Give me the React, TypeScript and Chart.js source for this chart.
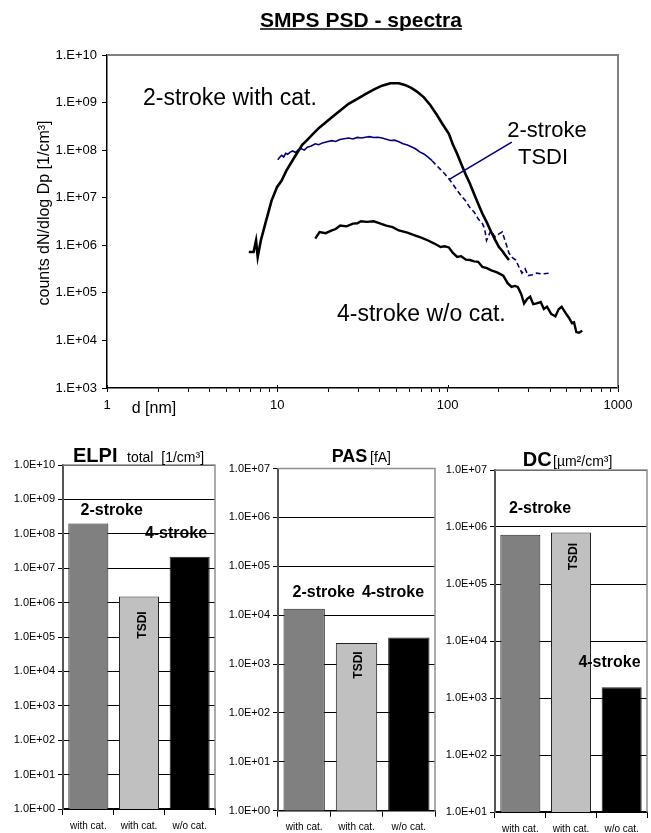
import React, { useEffect, useRef } from "react";
import { Chart, registerables } from "chart.js";

Chart.register(...registerables);

const FONT = "'Liberation Sans', Arial, Helvetica, sans-serif";

// ---------- SMPS spectra data ----------
const twoStrokeCatD = [6.8, 7.25, 7.5, 7.67, 8.0, 8.5, 9.25, 9.95, 10.6, 11.3, 12.6, 14.0, 14.9, 16.2, 17.7, 19.2, 20.9, 23.5, 26.2, 29.5, 32.9, 37, 41.2, 46.1, 51.7, 56, 61.2, 66, 72.5, 79, 85.9, 93, 101.7, 107, 113.8, 120, 127, 135, 143, 151, 160, 170, 179, 190, 200, 210, 218, 229];
const twoStrokeCatN = [7.2e5, 7.2e5, 1.26e6, 5.7e5, 1.26e6, 2.85e6, 8.7e6, 1.66e7, 2.3e7, 3.7e7, 7.1e7, 1.3e8, 1.6e8, 2.2e8, 3.0e8, 3.8e8, 4.9e8, 6.9e8, 9.4e8, 1.2e9, 1.5e9, 1.9e9, 2.27e9, 2.55e9, 2.55e9, 2.35e9, 2.04e9, 1.7e9, 1.29e9, 8.9e8, 5.7e8, 3.6e8, 2.2e8, 1.35e8, 8.3e7, 5.2e7, 3.2e7, 2.0e7, 1.2e7, 7.5e6, 4.6e6, 3.0e6, 2.0e6, 1.3e6, 9.2e5, 7.5e5, 6.2e5, 4.9e5];

const tsdiD = [10.06, 10.3, 10.6, 10.9, 11.2, 11.5, 11.9, 12.3, 12.8, 13.3, 13.8, 14.4, 15.0, 15.8, 16.7, 17.5, 18.4, 19.6, 20.9, 22.0, 23.3, 24.7, 26.2, 27.8, 29.5, 31.2, 32.9, 34.8, 36.8, 38.9, 41.2, 43.6, 46.1, 48.8, 51.7, 54.7, 58, 61.2, 64.7, 68.5, 72.5, 76.7, 81, 85.9, 91, 96, 101.7, 107.5, 113.8, 120, 127, 135, 143, 151, 160, 165, 169, 174, 179, 190, 200, 209, 218, 224, 229, 240, 251, 262, 273, 285, 297, 315, 333, 360, 394];
const tsdiN = [6.3e7, 7.0e7, 7.8e7, 7.2e7, 8.6e7, 8.2e7, 9.1e7, 9.6e7, 8.9e7, 1.02e8, 1.08e8, 1.0e8, 1.15e8, 1.22e8, 1.36e8, 1.3e8, 1.42e8, 1.5e8, 1.58e8, 1.52e8, 1.68e8, 1.74e8, 1.8e8, 1.72e8, 1.85e8, 1.8e8, 1.87e8, 1.92e8, 1.84e8, 1.87e8, 1.8e8, 1.7e8, 1.6e8, 1.62e8, 1.5e8, 1.36e8, 1.28e8, 1.18e8, 1.07e8, 9.2e7, 8.3e7, 7.1e7, 6.0e7, 4.8e7, 3.9e7, 3.2e7, 2.5e7, 1.9e7, 1.42e7, 1.1e7, 8.7e6, 6.2e6, 5.0e6, 3.6e6, 2.85e6, 2.2e6, 1.26e6, 1.6e6, 2.0e6, 1.5e6, 1.74e6, 1.9e6, 1.2e6, 9.0e5, 6.8e5, 5.5e5, 4.9e5, 3.5e5, 2.6e5, 3.2e5, 2.3e5, 2.4e5, 2.6e5, 2.5e5, 2.6e5];

const fourStrokeD = [16.7, 17.7, 19.2, 20.9, 22.0, 23.4, 25.5, 27.8, 29.5, 31.0, 33.5, 36.8, 40, 43.6, 47.5, 51.7, 58, 64.7, 70, 76.7, 83, 90.9, 96, 101.7, 107, 113.8, 120, 128, 135, 143, 151, 160, 170, 179, 195, 212, 225, 237, 248, 258, 270, 281, 293, 305, 318, 333, 352, 367, 383, 405, 429, 448, 467, 494, 515, 537, 552, 569, 590, 617];
const fourStrokeN = [1.38e6, 1.9e6, 1.8e6, 2.05e6, 2.2e6, 2.6e6, 2.5e6, 2.85e6, 2.9e6, 3.2e6, 3.1e6, 3.2e6, 2.9e6, 2.6e6, 2.4e6, 2.05e6, 1.85e6, 1.6e6, 1.45e6, 1.26e6, 1.1e6, 9.2e5, 9.5e5, 9.0e5, 7.0e5, 5.7e5, 5.9e5, 5.0e5, 4.9e5, 4.6e5, 4.5e5, 3.5e5, 3.3e5, 3.0e5, 2.7e5, 2.3e5, 1.6e5, 1.33e5, 1.4e5, 1.33e5, 9.5e4, 6.0e4, 7.5e4, 8.3e4, 5.8e4, 6.0e4, 6.4e4, 4.6e4, 5.1e4, 3.6e4, 3.2e4, 4.5e4, 5.1e4, 3.7e4, 3.0e4, 2.3e4, 2.4e4, 1.5e4, 1.45e4, 1.6e4];

const spectraXTickValues = [1, 10, 100, 1000];
const spectraXTickLabels = ["1", "10", "100", "1000"];
const spectraYTickValues = [1e3, 1e4, 1e5, 1e6, 1e7, 1e8, 1e9, 1e10];
const spectraYTickLabels = ["1.E+03", "1.E+04", "1.E+05", "1.E+06", "1.E+07", "1.E+08", "1.E+09", "1.E+10"];
const leaderFrom = [101.7, 2.4e7];
const leaderTo = [238, 1.47e8];

// ---------- Bar chart data ----------
const barCategories = ["with cat.", "with cat.", "w/o cat."];
const barColors = ["#808080", "#c0c0c0", "#000000"];
const elpiValues = [2.0e8, 1.5e6, 2.15e7];
const pasValues = [1.35e4, 2.7e3, 3.5e3];
const dcValues = [7.3e5, 8.0e5, 1.55e3];
const elpiTickValues = [1e0, 1e1, 1e2, 1e3, 1e4, 1e5, 1e6, 1e7, 1e8, 1e9, 1e10];
const elpiTickLabels = ["1.0E+00", "1.0E+01", "1.0E+02", "1.0E+03", "1.0E+04", "1.0E+05", "1.0E+06", "1.0E+07", "1.0E+08", "1.0E+09", "1.0E+10"];
const pasTickValues = [1e0, 1e1, 1e2, 1e3, 1e4, 1e5, 1e6, 1e7];
const pasTickLabels = ["1.0E+00", "1.0E+01", "1.0E+02", "1.0E+03", "1.0E+04", "1.0E+05", "1.0E+06", "1.0E+07"];
const dcTickValues = [1e1, 1e2, 1e3, 1e4, 1e5, 1e6, 1e7];
const dcTickLabels = ["1.0E+01", "1.0E+02", "1.0E+03", "1.0E+04", "1.0E+05", "1.0E+06", "1.0E+07"];

const pts = (d: number[], n: number[]) => d.map((x, i) => ({ x, y: n[i] }));

function isDecade(v: number) {
  const l = Math.log10(v);
  return Math.abs(l - Math.round(l)) < 1e-9;
}

function SpectraChart() {
  const ref = useRef<HTMLCanvasElement>(null);
  useEffect(() => {
    const decor = {
      id: "spectraDecor",
      afterDraw(chart: any) {
        const { ctx, chartArea: a, scales } = chart;
        const x = scales.x, y = scales.y;
        ctx.save();
        // plot frame (top/right)
        ctx.strokeStyle = "#808080";
        ctx.lineWidth = 2;
        ctx.beginPath();
        ctx.moveTo(a.left, a.top);
        ctx.lineTo(a.right, a.top);
        ctx.lineTo(a.right, a.bottom);
        ctx.stroke();
        // major ticks crossing upward
        ctx.strokeStyle = "#000";
        ctx.lineWidth = 1;
        for (const v of spectraXTickValues) {
          const px = Math.round(x.getPixelForValue(v)) + 0.5;
          ctx.beginPath();
          ctx.moveTo(px, a.bottom);
          ctx.lineTo(px, a.bottom - 3);
          ctx.stroke();
        }
        // leader line
        ctx.strokeStyle = "#000080";
        ctx.lineWidth = 1.6;
        ctx.beginPath();
        ctx.moveTo(x.getPixelForValue(leaderFrom[0]), y.getPixelForValue(leaderFrom[1]));
        ctx.lineTo(x.getPixelForValue(leaderTo[0]), y.getPixelForValue(leaderTo[1]));
        ctx.stroke();
        // title
        ctx.fillStyle = "#000";
        ctx.font = `bold 21px ${FONT}`;
        ctx.textAlign = "center";
        ctx.textBaseline = "alphabetic";
        const title = "SMPS PSD - spectra";
        ctx.fillText(title, 361, 26.5);
        const tw = ctx.measureText(title).width;
        ctx.strokeStyle = "#000";
        ctx.lineWidth = 1.5;
        ctx.beginPath();
        ctx.moveTo(361 - tw / 2, 29);
        ctx.lineTo(361 + tw / 2, 29);
        ctx.stroke();
        // curve annotations
        ctx.font = `23px ${FONT}`;
        ctx.textAlign = "left";
        ctx.fillText("2-stroke with cat.", 143, 105);
        ctx.fillText("4-stroke w/o cat.", 337, 320.5);
        ctx.font = `22px ${FONT}`;
        ctx.textAlign = "center";
        ctx.fillText("2-stroke", 547, 136.5);
        ctx.fillText("TSDI", 543, 164);
        // x axis label
        ctx.font = `16px ${FONT}`;
        ctx.fillText("d [nm]", 154, 413);
        // y axis title
        ctx.save();
        ctx.translate(44.5, 213);
        ctx.rotate(-Math.PI / 2);
        ctx.font = `16px ${FONT}`;
        ctx.textBaseline = "middle";
        ctx.fillText("counts dN/dlog Dp [1/cm³]", 0, 0);
        ctx.restore();
        ctx.restore();
      },
    };

    const chart = new Chart(ref.current as HTMLCanvasElement, {
      type: "line",
      data: {
        datasets: [
          {
            label: "2-stroke with cat.",
            data: pts(twoStrokeCatD, twoStrokeCatN),
            borderColor: "#000",
            borderWidth: 2.6,
            pointRadius: 0,
            tension: 0,
          },
          {
            label: "2-stroke TSDI",
            data: pts(tsdiD, tsdiN),
            borderColor: "#000080",
            borderWidth: 1.6,
            pointRadius: 0,
            tension: 0,
            segment: {
              borderDash: (c: any) => (c.p0.parsed.x >= 80 ? [5, 3] : undefined),
            },
          },
          {
            label: "4-stroke w/o cat.",
            data: pts(fourStrokeD, fourStrokeN),
            borderColor: "#000",
            borderWidth: 2.4,
            pointRadius: 0,
            tension: 0,
          },
        ] as any,
      },
      options: {
        responsive: false,
        animation: false,
        devicePixelRatio: 1,
        layout: { padding: { top: 55, right: 33, left: 0, bottom: 0 } },
        plugins: { legend: { display: false }, tooltip: { enabled: false }, title: { display: false } },
        scales: {
          x: {
            type: "logarithmic",
            min: 1,
            max: 1000,
            afterBuildTicks: (s: any) => {
              const t: any[] = [];
              for (let e = 0; e < 3; e++) {
                for (let m = 1; m < 10; m++) t.push({ value: m * Math.pow(10, e) });
              }
              t.push({ value: 1000 });
              s.ticks = t;
            },
            afterFit: (s: any) => {
              s.height = 32;
            },
            ticks: {
              autoSkip: false,
              maxRotation: 0,
              padding: 6,
              color: "#000",
              font: { size: 13, family: FONT },
              callback: (v: any) => {
                const i = spectraXTickValues.findIndex((t) => Math.abs(t - v) < 1e-9);
                return i >= 0 ? spectraXTickLabels[i] : "";
              },
            },
            grid: { drawOnChartArea: false, drawTicks: true, tickLength: 4, tickColor: "#000", tickWidth: 1 },
            border: { color: "#000", width: 1.5 },
          },
          y: {
            type: "logarithmic",
            min: 1e3,
            max: 1e10,
            afterBuildTicks: (s: any) => {
              s.ticks = spectraYTickValues.map((v) => ({ value: v }));
            },
            afterFit: (s: any) => {
              s.width = 107;
            },
            ticks: {
              padding: 5,
              color: "#000",
              font: { size: 13, family: FONT },
              callback: (_v: any, i: number) => spectraYTickLabels[i],
            },
            grid: { drawOnChartArea: false, drawTicks: true, tickLength: 5, tickColor: "#000", tickWidth: 1 },
            border: { color: "#000", width: 1.5 },
          },
        },
      } as any,
      plugins: [decor],
    });
    return () => chart.destroy();
  }, []);
  return (
    <canvas
      ref={ref}
      width={651}
      height={420}
      style={{ position: "absolute", left: 0, top: 0, width: 651, height: 420 }}
    />
  );
}

type Label = { text: string; x: number; y: number; rotate?: boolean; size?: number };

type BarProps = {
  left: number;
  width: number;
  values: number[];
  tickValues: number[];
  tickLabels: string[];
  yWidth: number;
  padTop: number;
  padRight: number;
  xHeight: number;
  titleMain: string;
  titleMainSize: number;
  titleMainX: number;
  titleSub: string;
  titleSubX: number;
  titleY: number;
  labels: Label[];
};

function BarPanel(p: BarProps) {
  const ref = useRef<HTMLCanvasElement>(null);
  useEffect(() => {
    const decor = {
      id: "barDecor",
      afterDraw(chart: any) {
        const { ctx, chartArea: a } = chart;
        ctx.save();
        ctx.strokeStyle = "#909090";
        ctx.lineWidth = 1.5;
        ctx.beginPath();
        ctx.moveTo(a.left, a.top);
        ctx.lineTo(a.right, a.top);
        ctx.lineTo(a.right, a.bottom);
        ctx.stroke();
        ctx.fillStyle = "#000";
        ctx.textBaseline = "alphabetic";
        ctx.textAlign = "left";
        ctx.font = `bold ${p.titleMainSize}px ${FONT}`;
        ctx.fillText(p.titleMain, p.titleMainX, p.titleY);
        ctx.font = `14px ${FONT}`;
        ctx.fillText(p.titleSub, p.titleSubX, p.titleY);
        for (const l of p.labels) {
          ctx.save();
          ctx.font = `bold ${l.size ?? 16}px ${FONT}`;
          ctx.textAlign = "center";
          ctx.textBaseline = "middle";
          ctx.translate(l.x, l.y);
          if (l.rotate) ctx.rotate(-Math.PI / 2);
          ctx.fillText(l.text, 0, 0);
          ctx.restore();
        }
        ctx.restore();
      },
    };
    const chart = new Chart(ref.current as HTMLCanvasElement, {
      type: "bar",
      data: {
        labels: barCategories,
        datasets: [
          {
            data: p.values,
            backgroundColor: barColors,
            borderColor: "#222",
            borderWidth: 1,
            barPercentage: 0.79,
            categoryPercentage: 1,
          },
        ],
      },
      options: {
        responsive: false,
        animation: false,
        devicePixelRatio: 1,
        layout: { padding: { top: p.padTop, right: p.padRight, left: 0, bottom: 0 } },
        plugins: { legend: { display: false }, tooltip: { enabled: false } },
        scales: {
          x: {
            type: "category",
            afterFit: (s: any) => {
              s.height = p.xHeight;
            },
            ticks: {
              padding: 5,
              color: "#000",
              maxRotation: 0,
              autoSkip: false,
              font: { size: 10, family: FONT },
            },
            grid: { offset: true, drawOnChartArea: false, drawTicks: true, tickLength: 6, tickColor: "#000" },
            border: { color: "#000", width: 1.5 },
          },
          y: {
            type: "logarithmic",
            min: p.tickValues[0],
            max: p.tickValues[p.tickValues.length - 1],
            afterBuildTicks: (s: any) => {
              s.ticks = p.tickValues.map((v) => ({ value: v }));
            },
            afterFit: (s: any) => {
              s.width = p.yWidth;
            },
            ticks: {
              padding: 3,
              color: "#000",
              font: { size: 11, family: FONT },
              callback: (_v: any, i: number) => p.tickLabels[i],
            },
            grid: { color: "#000", lineWidth: 1, drawTicks: true, tickLength: 5, tickColor: "#000" },
            border: { color: "#555", width: 2 },
          },
        },
      } as any,
      plugins: [decor],
    });
    return () => chart.destroy();
  }, []);
  return (
    <canvas
      ref={ref}
      width={p.width}
      height={413}
      style={{ position: "absolute", left: p.left, top: 420, width: p.width, height: 413 }}
    />
  );
}

export default function App() {
  return (
    <div style={{ position: "absolute", left: 0, top: 0, width: 651, height: 833, background: "#fff" }}>
      <SpectraChart />
      <BarPanel
        left={0}
        width={217}
        values={elpiValues}
        tickValues={elpiTickValues}
        tickLabels={elpiTickLabels}
        yWidth={63}
        padTop={45}
        padRight={2}
        xHeight={24}
        titleMain="ELPI"
        titleMainSize={20}
        titleMainX={73}
        titleSub="total  [1/cm³]"
        titleSubX={127}
        titleY={41.5}
        labels={[
          { text: "2-stroke", x: 111.7, y: 90.7 },
          { text: "4-stroke", x: 176, y: 113.3 },
          { text: "TSDI", x: 142.3, y: 205, rotate: true, size: 12 },
        ]}
      />
      <BarPanel
        left={215}
        width={222}
        values={pasValues}
        tickValues={pasTickValues}
        tickLabels={pasTickLabels}
        yWidth={63}
        padTop={48.5}
        padRight={2}
        xHeight={22.3}
        titleMain="PAS"
        titleMainSize={18}
        titleMainX={116.7}
        titleSub="[fA]"
        titleSubX={155}
        titleY={41.5}
        labels={[
          { text: "2-stroke", x: 108.7, y: 172.7 },
          { text: "4-stroke", x: 178, y: 172.7 },
          { text: "TSDI", x: 143.3, y: 245, rotate: true, size: 12 },
        ]}
      />
      <BarPanel
        left={432}
        width={219}
        values={dcValues}
        tickValues={dcTickValues}
        tickLabels={dcTickLabels}
        yWidth={63}
        padTop={50}
        padRight={4}
        xHeight={21}
        titleMain="DC"
        titleMainSize={20}
        titleMainX={90.7}
        titleSub="[µm²/cm³]"
        titleSubX={121}
        titleY={46}
        labels={[
          { text: "2-stroke", x: 108, y: 88.3 },
          { text: "4-stroke", x: 177.5, y: 242.7 },
          { text: "TSDI", x: 141.3, y: 136.7, rotate: true, size: 12 },
        ]}
      />
    </div>
  );
}
